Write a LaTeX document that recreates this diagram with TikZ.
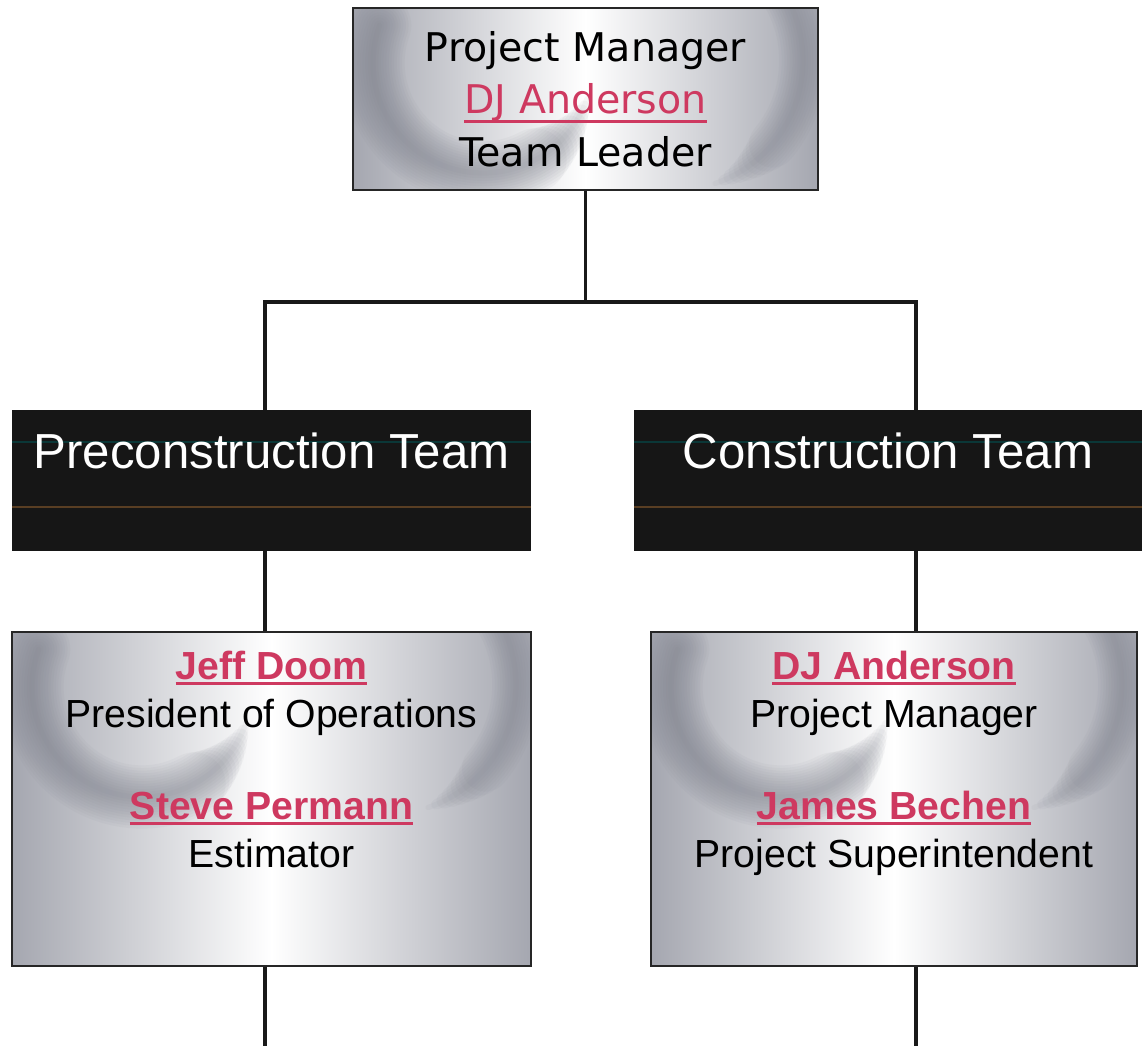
\documentclass[tikz,border=0pt]{standalone}
\usepackage{fontspec}
\setmainfont{Liberation Sans}
\newfontfamily\leadfont{DejaVu Sans}
\usetikzlibrary{positioning, calc}

\definecolor{namered}{RGB}{206,57,96}
\definecolor{barblack}{RGB}{22,22,22}
\definecolor{silverdark}{RGB}{120,123,135}
\definecolor{silveredge}{RGB}{165,167,176}
\newcommand{\underrule}[2][2.8pt]{\setbox0\hbox{#2}\rlap{\rule[-#1]{\wd0}{1.5pt}}\box0}
\newcommand{\who}[1]{{\color{namered}\bfseries\underrule{#1}}}

\tikzset{
	wire/.style={line width=2.1pt, black!90},
	silver/.style={draw=black!85, line width=1.1pt, inner sep=0pt, path picture={
		\shade[left color=silveredge, right color=silveredge, middle color=white]
			(path picture bounding box.south west) rectangle (path picture bounding box.north east);
		% soft dark sweep on the left
		\foreach \w in {3,6,...,36}
			\draw[silverdark, line width=\w pt, opacity=0.055, line cap=round]
				($(path picture bounding box.north west)+(2.6cm,-1.1cm)$)
				++(160:2.2cm) arc[start angle=160, end angle=345-1.3*\w, radius=2.2cm];
		% and down the right edge
		\foreach \w in {3,6,...,27}
			\draw[silverdark, line width=\w pt, opacity=0.055, line cap=round]
				($(path picture bounding box.north east)+(-2.9cm,-1.05cm)$)
				++(30:2.6cm) arc[start angle=30, end angle=-75+1.3*\w, radius=2.6cm];
	}},
	teambar/.style={fill=barblack, inner sep=0pt, text=white, minimum height=2.82cm,
		text height=1.16cm, text depth=1.66cm, font=\fontsize{28}{33}\selectfont,
		path picture={
		\draw[teal!70!black, opacity=0.5, line width=0.8pt]
			([yshift=-0.64cm]path picture bounding box.north west) -- ([yshift=-0.64cm]path picture bounding box.north east);
		\draw[brown!70!black, opacity=0.6, line width=0.8pt]
			([yshift=-1.94cm]path picture bounding box.north west) -- ([yshift=-1.94cm]path picture bounding box.north east);
	}},
	names/.style={align=center, inner sep=0pt, font=\fontsize{22.3}{27.3}\selectfont}
}

\begin{document}
\begin{tikzpicture}[x=0.02cm, y=-0.02cm]
	\useasboundingbox (0,0) rectangle (1142,1046);

	\node[silver, minimum width=9.3cm, minimum height=3.64cm, align=center,
		font=\leadfont\fontsize{22.5}{30}\selectfont] (pm) at (585.5,99)
		{Project Manager\\{\color{namered}\underrule[5pt]{DJ Anderson}}\\Team Leader};

	\node[teambar, minimum width=10.38cm] (pre) at (271.5,480.5) {Preconstruction Team};
	\node[teambar, minimum width=10.16cm] (con) at (888,480.5) {Construction Team};

	\node[silver, minimum width=10.38cm, minimum height=6.68cm] (preteam) at (271.5,799) {};
	\node[silver, minimum width=9.72cm, minimum height=6.68cm] (conteam) at (894,799) {};

	\node[names, below=0.4cm of preteam.north] (prenames)
		{\who{Jeff Doom}\\President of Operations\\[25pt]\who{Steve Permann}\\Estimator};
	\node[names, below=0.4cm of conteam.north] (connames)
		{\who{DJ Anderson}\\Project Manager\\[25pt]\who{James Bechen}\\Project Superintendent};

	\coordinate (busL) at (265,302);
	\coordinate (busR) at (916,302);
	\coordinate (bottom) at (0,1046);

	\draw[wire] (pm.south) |- (busL) -- (busL |- pre.north);
	\draw[wire] (pm.south) |- (busR) -- (busR |- con.north);
	\draw[wire] (pre.south -| busL) -- (preteam.north -| busL);
	\draw[wire] (con.south -| busR) -- (conteam.north -| busR);
	\draw[wire] (preteam.south -| busL) -- (busL |- bottom);
	\draw[wire] (conteam.south -| busR) -- (busR |- bottom);
\end{tikzpicture}
\end{document}
